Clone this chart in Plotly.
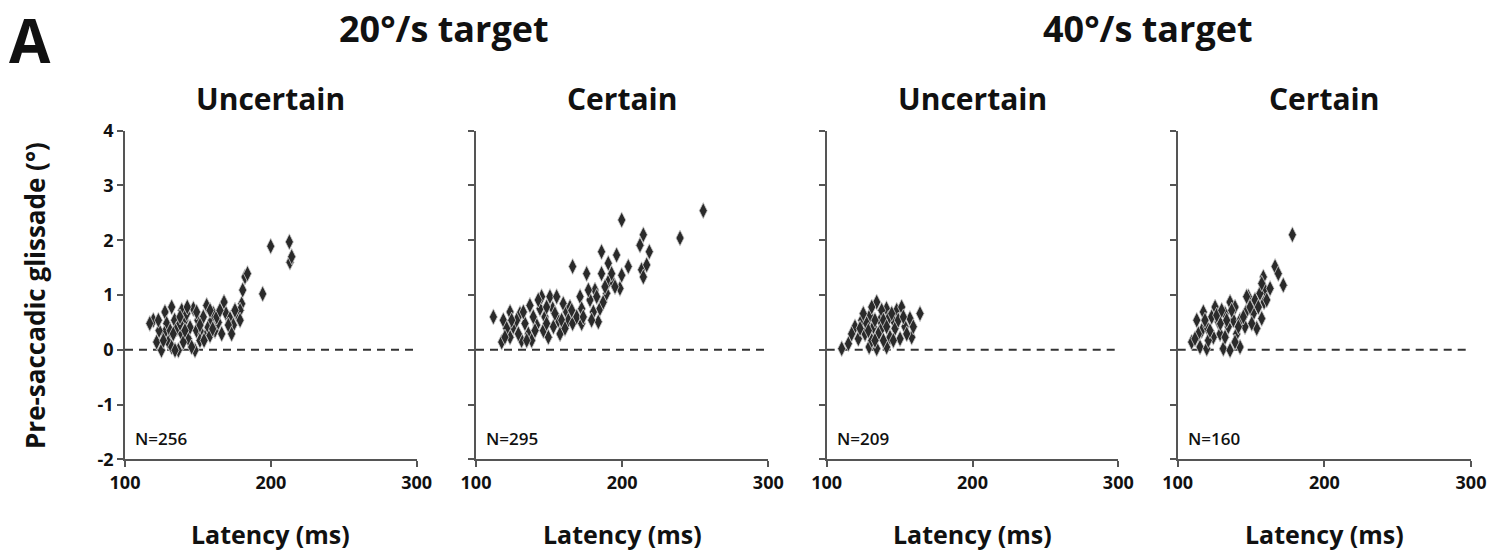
import plotly.graph_objects as go

# ---------------- data ----------------
panel_titles = ["Uncertain", "Certain", "Uncertain", "Certain"]
group_titles = ["20°/s target", "40°/s target"]
n_labels = ["N=256", "N=295", "N=209", "N=160"]
x_ticks = [100, 200, 300]
y_ticks = [-2, -1, 0, 1, 2, 3, 4]
y_tick_labels = ["-2", "-1", "0", "1", "2", "3", "4"]

p1_latency = [119.4, 117, 121.7, 125, 127.4, 128.6, 127, 129.7, 132, 134, 135.4, 136.6, 138.9, 138.9,
              141, 143.4, 144.6, 146.9, 148, 149, 150, 152.6, 153.7, 156, 157, 159.4, 160.6, 161.7,
              164, 166.3, 167.9, 169.3, 172, 174.3, 176.6, 180, 180.7, 182.3, 184, 194.4, 199.9,
              212.7, 213.1, 214.3, 123.4, 131, 142.3, 137.7, 151.4, 145.7, 154.9, 158.3, 162.9,
              170.9, 178.9, 122.9, 132, 133.1, 140, 142.7, 149.1, 151.4, 154.2, 158.3, 160.1,
              165.1, 173.1, 175.4, 178.9, 137.7, 126.3, 134.3, 141.1]
p1_glissade = [0.54, 0.48, 0.14, -0.01, 0.69, 0.48, 0.3, 0.14, 0.05, 0.54, 0.38, -0.01, 0.72, 0.29,
               0.54, 0.2, 0.41, 0.75, -0.01, 0.35, 0.54, 0.29, 0.6, 0.81, 0.41, 0.54, 0.66, 0.35,
               0.5, 0.29, 0.87, 0.66, 0.57, 0.45, 0.66, 0.84, 1.09, 1.33, 1.39, 1.02, 1.89,
               1.97, 1.6, 1.7, 0.35, 0.35, 0.66, 0.48, 0.17, 0.05, 0.23, 0.26, 0.6,
               0.45, 0.72, 0.54, 0.78, 0.29, 0.14, 0.78, 0.69, 0.45, 0.17, 0.72, 0.38,
               0.72, 0.29, 0.72, 0.54, 0.6, 0.17, -0.01, 0.35]

p2_latency = [111.9, 118.7, 117.6, 123.3, 123.3, 125.5, 130.1, 131.2, 133.5, 135.8, 136.9, 141.5,
              143.8, 144.9, 147.2, 149.5, 150.6, 152.5, 153, 156.3, 159.7, 162, 163.2, 166.1, 166.1,
              171.2, 172.3, 172.3, 175.7, 178, 181.4, 183.7, 184.8, 185.9, 185.9, 187.1, 190.5,
              190.5, 194, 196.2, 198.5, 199.7, 199.7, 204.2, 212.2, 213.3, 214.5, 214.5, 216.8,
              218.6, 239.6, 255.5, 121, 127.8, 139.2, 138.1, 146.1, 157.5, 164.3, 180.3, 189.4,
              119.8, 124.4, 129, 132.4, 134.7, 140.4, 142.6, 148.3, 148.3, 154, 155.2, 158.6,
              160.9, 165.5, 168.9, 173.4, 176.9, 179.1, 182.6, 188.3, 192.8, 195.1]
p2_glissade = [0.6, 0.54, 0.14, 0.69, 0.23, 0.42, 0.66, 0.17, 0.48, 0.29, 0.81, 0.45,
               0.75, 0.97, 0.6, 0.23, 0.97, 0.75, 0.42, 0.54, 0.84, 0.69, 0.54, 1.52, 0.48,
               0.97, 0.75, 0.48, 1.39, 0.91, 1.09, 0.51, 0.75, 1.39, 1.79, 0.87, 1.24,
               1.58, 1.21, 1.73, 1.12, 2.37, 1.36, 1.52, 1.91, 1.46, 2.1, 1.33, 1.55,
               1.79, 2.04, 2.54, 0.39, 0.54, 0.6, 0.17, 0.35, 0.29, 0.78, 0.69, 1.03,
               0.23, 0.54, 0.29, 0.69, 0.17, 0.35, 0.91, 0.78, 0.48, 0.66, 0.97, 0.54,
               0.39, 0.72, 0.6, 0.6, 1.09, 0.54, 0.97, 1.15, 1.39, 1.15]

p3_latency = [110.3, 114.9, 119.4, 121.7, 124, 126.3, 129.1, 129.7, 132, 134.3, 134.3, 136.6,
              137.7, 141, 141.1, 143.4, 145.7, 148, 150.3, 151.4, 153.7, 157.1, 158.3, 164,
              127.4, 135.4, 142.3, 146.9, 138.9, 130.9, 117.1, 122.9, 125.1, 128.6, 133.1,
              133.1, 137.7, 138.9, 141.1, 144.6, 145.7, 149.1, 152.6, 154.9, 159.4, 130.9]
p3_glissade = [0.02, 0.11, 0.42, 0.2, 0.54, 0.29, 0.05, 0.63, 0.42, 0.87, 0.02, 0.54,
               0.39, 0.75, 0.05, 0.23, 0.54, 0.72, 0.2, 0.78, 0.42, 0.57, 0.23, 0.66,
               0.48, 0.29, 0.57, 0.39, 0.17, 0.17, 0.29, 0.39, 0.66, 0.35, 0.54,
               0.17, 0.72, 0.54, 0.42, 0.66, 0.17, 0.54, 0.6, 0.29, 0.42, 0.78]

p4_latency = [109.5, 113, 115.2, 116.4, 117.5, 119.8, 119.8, 123.2, 124.3, 125.5, 127.7, 128.9,
              131.1, 132.3, 134.5, 135.7, 135.7, 138, 140.2, 142.5, 145.9, 146.6, 148.2, 151.6,
              152.7, 153.9, 157.3, 158.4, 158.9, 159.5, 163, 166.4, 168.6, 172, 178.2,
              114.1, 120.9, 129.1, 139.1, 142.5, 149.3, 111.8, 118.6, 122, 126.6, 130, 132.3,
              133.4, 136.8, 139.1, 141.4, 144.8, 147, 150.5, 155, 156.1, 160.7, 157.3]
p4_glissade = [0.14, 0.54, 0.05, 0.35, 0.69, 0.02, 0.42, 0.6, 0.23, 0.78, 0.51, 0.29,
               0.02, 0.66, 0.42, 0.87, -0.01, 0.54, 0.29, 0.05, 0.42, 0.69, 0.97, 0.66,
               0.91, 0.39, 0.57, 1.33, 0.87, 1.09, 1.12, 1.52, 1.39, 1.18, 2.1,
               0.29, 0.17, 0.48, 0.78, 0.54, 0.78, 0.2, 0.54, 0.35, 0.63, 0.72, 0.23,
               0.54, 0.72, 0.14, 0.42, 0.6, 0.97, 0.48, 0.78, 1.03, 0.91, 1.21]

latencies = [p1_latency, p2_latency, p3_latency, p4_latency]
glissades = [p1_glissade, p2_glissade, p3_glissade, p4_glissade]

# ---------------- layout ----------------
W, H = 1492, 554
FONT = "Open Sans"
INK = "#111111"

def px(xpix):
    return xpix / W

def py(ypix):
    return 1 - ypix / H

x_domains = [(125.0, 416.7), (476.0, 768.3), (826.7, 1118.3), (1177.7, 1471.0)]
y_domain = [py(459.3), py(130.7)]

fig = go.Figure()

for i in range(4):
    ax = "" if i == 0 else str(i + 1)
    fig.add_trace(go.Scatter(
        x=latencies[i], y=glissades[i], mode="markers",
        xaxis="x" + ax, yaxis="y" + ax,
        marker=dict(symbol="diamond-tall", size=11.5, color="#2a2a2a",
                    line=dict(color="#cfcfcf", width=0.8)),
        showlegend=False, hoverinfo="x+y",
    ))
    axis_common = dict(showline=True, linecolor="#555555", linewidth=1.5,
                       ticks="outside", ticklen=6, tickwidth=1.5, tickcolor="#555555",
                       showgrid=False, zeroline=False, automargin=False,
                       tickfont=dict(family=FONT, size=18, color=INK, weight="bold"))
    fig.update_layout(**{
        "xaxis" + ax: dict(domain=[px(x_domains[i][0]), px(x_domains[i][1])],
                           range=[100, 300], tickvals=x_ticks, anchor="y" + ax,
                           **axis_common),
        "yaxis" + ax: dict(domain=y_domain, range=[-2, 4], tickvals=y_ticks,
                           ticktext=y_tick_labels,
                           showticklabels=(i == 0), anchor="x" + ax,
                           **axis_common),
    })
    # zero reference line
    fig.add_shape(type="line", xref="x" + ax, yref="y" + ax, x0=100, x1=300, y0=0, y1=0,
                  line=dict(color="#333333", width=2, dash="8px,6px"), layer="below")
    # panel title
    cx = (x_domains[i][0] + x_domains[i][1]) / 2
    fig.add_annotation(text=panel_titles[i], x=px(cx), y=py(99), xref="paper", yref="paper",
                       xanchor="center", yanchor="middle", showarrow=False,
                       font=dict(family=FONT, size=30, color=INK, weight="bold"))
    # x axis title
    fig.add_annotation(text="Latency (ms)", x=px(cx), y=py(534), xref="paper", yref="paper",
                       xanchor="center", yanchor="middle", showarrow=False,
                       font=dict(family=FONT, size=25, color=INK, weight="bold"))
    # N label
    fig.add_annotation(text=n_labels[i], x=px(x_domains[i][0] + 8), y=py(438),
                       xref="paper", yref="paper", xanchor="left", yanchor="middle",
                       showarrow=False,
                       font=dict(family=FONT, size=17, color=INK, weight=600))

# group titles
for g, cx in zip(group_titles, [444, 1148]):
    fig.add_annotation(text=g, x=px(cx), y=py(28), xref="paper", yref="paper",
                       xanchor="center", yanchor="middle", showarrow=False,
                       font=dict(family=FONT, size=36, color=INK, weight="bold"))

# panel letter
fig.add_annotation(text="A", x=px(30), y=py(40), xref="paper", yref="paper",
                   xanchor="center", yanchor="middle", showarrow=False,
                   font=dict(family=FONT, size=60, color=INK, weight="bold"))

# y axis title
fig.add_annotation(text="Pre-saccadic glissade (°)", x=px(35), y=py(296), xref="paper",
                   yref="paper", xanchor="center", yanchor="middle", textangle=-90,
                   showarrow=False,
                   font=dict(family=FONT, size=26, color=INK, weight="bold"))

fig.update_layout(width=W, height=H, autosize=False,
                  margin=dict(l=0, r=0, t=0, b=0),
                  paper_bgcolor="white", plot_bgcolor="white")

fig.write_html("out.html", config={"displayModeBar": False},
               post_script="document.body.style.margin='0';document.body.style.overflow='hidden';")
